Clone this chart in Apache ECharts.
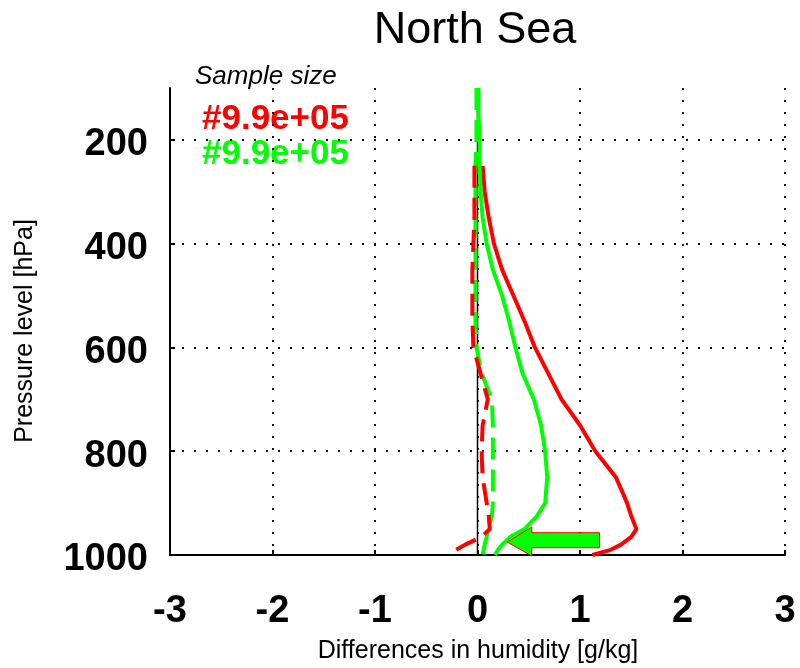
<!DOCTYPE html>
<html>
<head>
<meta charset="utf-8">
<script src="https://cdn.jsdelivr.net/npm/echarts@6/dist/echarts.min.js"></script>
<style>
  html, body { margin: 0; padding: 0; background: #fff; }
  #chart { width: 800px; height: 668px; }
</style>
</head>
<body>
<div id="chart"></div>
<script>
// Pressure levels (hPa) shared by all profiles
const levels = [100, 150, 200, 250, 300, 350, 400, 450, 500, 550, 600, 650, 700, 750, 800, 850, 900, 925, 950, 965, 980, 990, 1000];

// Humidity differences (g/kg) per profile
const redSolid   = [null, null, null, 0.05, 0.07, 0.11, 0.16, 0.24, 0.35, 0.46, 0.56, 0.69, 0.82, 1.00, 1.15, 1.35, 1.46, 1.50, 1.55, 1.50, 1.40, 1.30, 1.12];
const redDashed  = [null, null, null, -0.03, -0.03, -0.03, -0.04, -0.05, -0.05, -0.05, -0.04, 0.03, 0.10, 0.05, 0.04, 0.05, 0.09, 0.11, 0.12, 0.04, -0.12, -0.21, -0.29];
const greenSolid = [0.01, 0.01, 0.02, 0.02, 0.03, 0.05, 0.09, 0.15, 0.24, 0.31, 0.37, 0.44, 0.55, 0.62, 0.66, 0.68, 0.66, 0.58, 0.46, 0.32, 0.24, 0.20, 0.17];
const greenDashed= [-0.01, -0.01, -0.01, -0.02, -0.02, -0.02, -0.02, -0.02, -0.02, -0.02, -0.01, 0.04, 0.14, 0.15, 0.15, 0.15, 0.15, 0.14, 0.11, 0.09, 0.07, 0.06, 0.05];

// Axis ticks
const xTicks = [-3, -2, -1, 0, 1, 2, 3];
const yTicks = [200, 400, 600, 800, 1000];

// Reference line at zero difference
const zeroLine = [[0, 100], [0, 1000]];

// Highlight arrow outline, in (g/kg, hPa)
const arrowOutline = [[0.29, 975], [0.53, 946], [0.53, 957], [1.19, 957], [1.19, 986], [0.53, 986], [0.53, 1002]];

// Legend text
const sampleTitle = 'Sample size';
const sampleRed = '#9.9e+05';
const sampleGreen = '#9.9e+05';

function pairs(vals) {
  return levels.map((p, i) => vals[i] == null ? null : [vals[i], p]).filter(d => d);
}

const chart = echarts.init(document.getElementById('chart'), null, { renderer: 'canvas' });

const textFont = '"Liberation Sans", Arial, sans-serif';

const option = {
  animation: false,
  backgroundColor: '#fff',
  grid: { left: 170, right: 15, top: 88, bottom: 113, outerBoundsMode: 'none' },
  xAxis: {
    type: 'value',
    min: xTicks[0],
    max: xTicks[xTicks.length - 1],
    interval: 1,
    axisLine: { show: true, onZero: false, lineStyle: { color: '#000', width: 2 } },
    axisTick: { show: true, inside: true, length: 5, lineStyle: { color: '#000', width: 2 } },
    axisLabel: { color: '#000', fontFamily: textFont, fontWeight: 'bold', fontSize: 38, margin: 38, formatter: v => String(v) },
    splitLine: { show: true, lineStyle: { color: '#111', width: 2, type: [2, 10] } }
  },
  yAxis: {
    type: 'value',
    inverse: true,
    min: 100,
    max: 1000,
    axisLine: { show: true, onZero: false, lineStyle: { color: '#000', width: 2 } },
    axisTick: { show: true, inside: true, length: 5, customValues: yTicks, lineStyle: { color: '#000', width: 2 } },
    axisLabel: { color: '#000', fontFamily: textFont, fontWeight: 'bold', fontSize: 38, margin: 22, customValues: yTicks, verticalAlign: 'top', lineHeight: 10, formatter: v => String(v) },
    splitLine: { show: true, lineStyle: { color: '#111', width: 2, type: [2, 10] } }
  },
  graphic: [
    { type: 'text', x: 475, y: 31, style: { text: 'North Sea', font: '45px ' + textFont, fill: '#000', textAlign: 'center', textVerticalAlign: 'middle' } },
    { type: 'text', x: 195, y: 77, style: { text: sampleTitle, font: 'italic 26px ' + textFont, fill: '#000', textAlign: 'left', textVerticalAlign: 'middle' } },
    { type: 'text', x: 202, y: 119, style: { text: sampleRed, font: 'bold 35px ' + textFont, fill: '#ff0000', textAlign: 'left', textVerticalAlign: 'middle' } },
    { type: 'text', x: 202, y: 154, style: { text: sampleGreen, font: 'bold 35px ' + textFont, fill: '#00ff00', textAlign: 'left', textVerticalAlign: 'middle' } },
    { type: 'text', x: 25, y: 331, rotation: Math.PI / 2, style: { text: 'Pressure level [hPa]', font: '25px ' + textFont, fill: '#000', textAlign: 'center', textVerticalAlign: 'middle' } },
    { type: 'text', x: 478, y: 651, style: { text: 'Differences in humidity [g/kg]', font: '25px ' + textFont, fill: '#000', textAlign: 'center', textVerticalAlign: 'middle' } }
  ],
  series: [
    {
      type: 'line', data: zeroLine, showSymbol: false, silent: true, z: 1,
      lineStyle: { color: '#000', width: 1.5 }
    },
    {
      type: 'line', data: pairs(redSolid), showSymbol: false, z: 3,
      lineStyle: { color: '#ff0000', width: 4 }
    },
    {
      type: 'line', data: pairs(greenSolid), showSymbol: false, z: 4,
      lineStyle: { color: '#00ff00', width: 4 }
    },
    {
      type: 'line', data: pairs(greenDashed), showSymbol: false, z: 4,
      lineStyle: { color: '#00ff00', width: 4, type: [22, 10] }
    },
    {
      type: 'line', data: pairs(redDashed), showSymbol: false, z: 5,
      lineStyle: { color: '#ff0000', width: 4, type: [22, 10] }
    },
    {
      type: 'custom', z: 6, clip: false, data: [0],
      renderItem: function (params, api) {
        const pts = arrowOutline.map(p => api.coord(p));
        return {
          type: 'polygon',
          shape: { points: pts },
          style: { fill: '#00ff00', stroke: '#ff0000', lineWidth: 1 }
        };
      }
    }
  ]
};

chart.setOption(option);
</script>
</body>
</html>
